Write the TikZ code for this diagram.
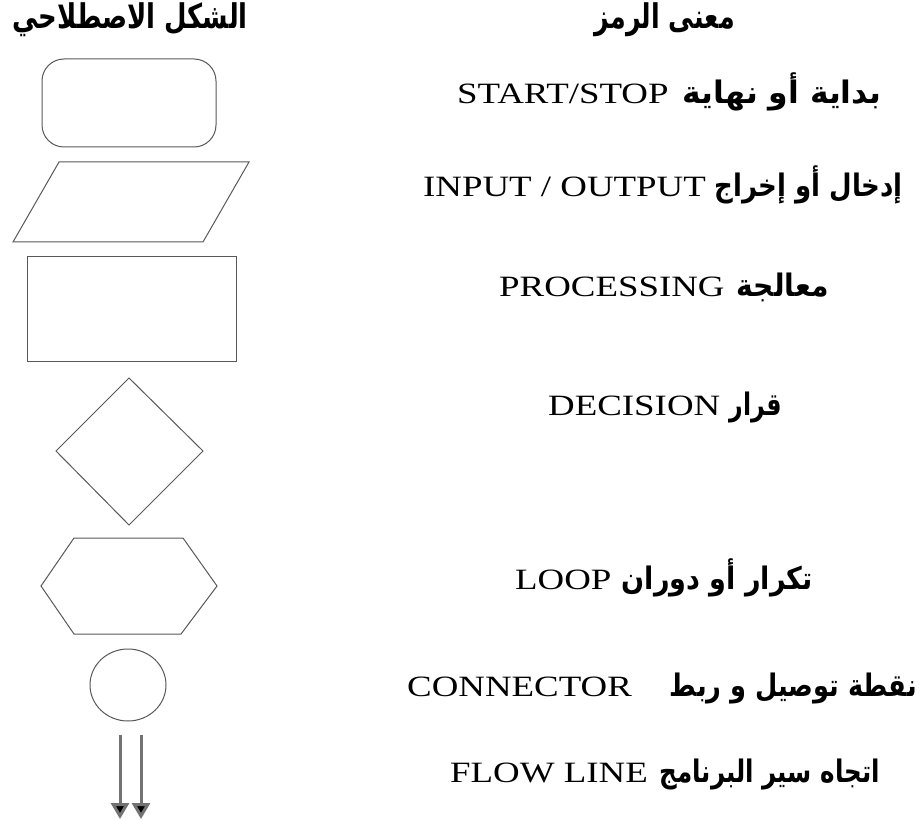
\documentclass[tikz,border=0pt]{standalone}
\usepackage{fontspec}
\usepackage{graphicx}
\usepackage{tikz}
\usetikzlibrary{arrows.meta}
\TeXXeTstate=1
\newfontfamily\arabicfont[Script=Arabic]{DejaVu Sans}
\newfontfamily\latinfont[FakeStretch=1.25]{Liberation Serif}
% arabic words, stretched to the width they take in the picture
\newcommand{\arbw}[2]{\resizebox{#1}{\height}{\arabicfont\bfseries #2}}

\begin{document}
\begin{tikzpicture}[x=1pt,y=-1pt,
  symbol/.style={draw=black!65,line width=1pt},
  latinword/.style={anchor=base west,inner sep=0pt,font=\fontsize{29.5}{32}\latinfont},
  arabicword/.style={anchor=base east,inner sep=0pt,font=\fontsize{31}{34}\selectfont},
  heading/.style={anchor=base east,inner sep=0pt,font=\fontsize{34}{36}\selectfont},
  flow/.style={draw=black!55,line width=3pt,-{Triangle[width=18pt,length=16pt,fill=black]}}]
  \useasboundingbox[fill=white] (0,0) rectangle (924,821);
  % headings
  \node[heading] (shapehead) at (248,29) {\arbw{235pt}{\beginR الشكل الاصطلاحي\endR}};
  \node[heading] (meanhead) at (735,29) {\arbw{140pt}{\beginR معنى الرمز\endR}};
  % symbols
  \draw[symbol,rounded corners=22pt] (42,59) rectangle (216,147);
  \draw[symbol] (59,162) -- (249,162) -- (203,242) -- (13,242) -- cycle;
  \draw[symbol] (27,257) rectangle (236,361);
  \draw[symbol] (129,378) -- (203,451) -- (129,525) -- (56,451) -- cycle;
  \draw[symbol] (74,538) -- (183,538) -- (217,586) -- (181,634) -- (74,634) -- (41,586) -- cycle;
  \draw[symbol] (128,685) ellipse [x radius=38,y radius=36];
  \coordinate (flowA) at (120,735);
  \coordinate (flowAend) at (120,819);
  \coordinate (flowB) at (141,735);
  \coordinate (flowBend) at (141,819);
  \draw[flow] (flowA) -- (flowAend);
  \draw[flow] (flowB) -- (flowBend);
  % meanings
  \node[latinword] (startstop) at (457,104) {START/STOP};
  \node[arabicword] (startstopar) at (882,104) {\arbw{199pt}{\beginR بداية أو نهاية\endR}};
  \node[latinword] (inout) at (423,197) {INPUT / OUTPUT};
  \node[arabicword] (inoutar) at (903,197) {\arbw{188pt}{\beginR إدخال أو إخراج\endR}};
  \node[latinword] (process) at (499,296) {PROCESSING};
  \node[arabicword] (processar) at (829,296) {\arbw{92pt}{\beginR معالجة\endR}};
  \node[latinword] (decide) at (548,415) {DECISION};
  \node[arabicword] (decidear) at (782,415) {\arbw{52pt}{\beginR قرار\endR}};
  \node[latinword] (loop) at (515,589) {LOOP};
  \node[arabicword] (looppar) at (813,589) {\arbw{191pt}{\beginR تكرار أو دوران\endR}};
  \node[latinword] (connect) at (407,696) {CONNECTOR};
  \node[arabicword] (connectar) at (917,696) {\arbw{247pt}{\beginR نقطة توصيل و ربط\endR}};
  \node[latinword] (flowline) at (450,782) {FLOW LINE};
  \node[arabicword] (flowlinear) at (880,782) {\arbw{220pt}{\beginR اتجاه سير البرنامج\endR}};
\end{tikzpicture}
\end{document}
